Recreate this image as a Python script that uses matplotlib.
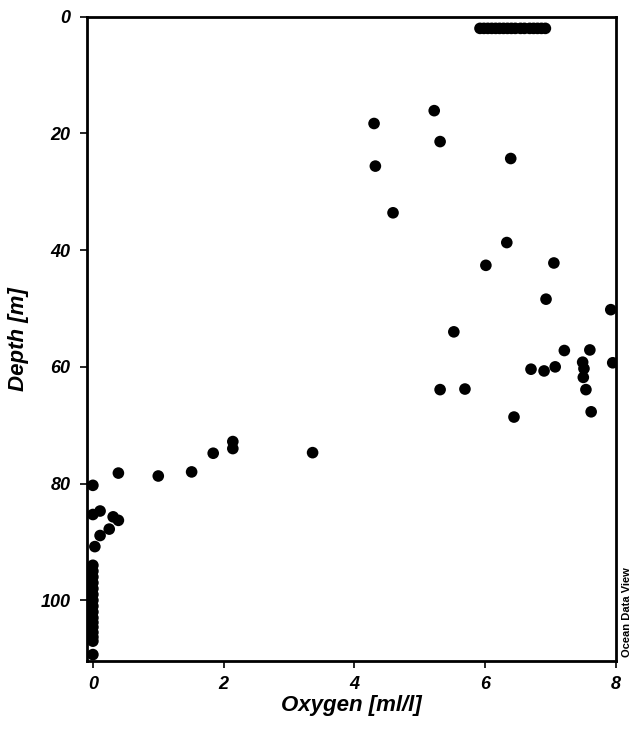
import matplotlib
matplotlib.use("Agg")
import matplotlib.pyplot as plt

# Surface cluster (~2 m)
surf_oxygen = [5.92, 5.98, 6.04, 6.10, 6.16, 6.22, 6.28, 6.34, 6.40, 6.46,
               6.54, 6.60, 6.68, 6.74, 6.80, 6.86, 6.92]
surf_depth = [2.0] * len(surf_oxygen)

# Mid-water points
mid_oxygen = [5.22, 4.30, 5.31, 6.39, 4.32, 4.59, 6.33, 6.01, 7.05, 6.93,
              7.92, 5.52, 7.21, 7.60, 7.49, 7.95, 6.70, 6.90, 7.07, 7.51,
              7.50, 7.54, 5.31, 5.69, 7.62, 6.44]
mid_depth = [16.1, 18.3, 21.4, 24.3, 25.6, 33.6, 38.7, 42.6, 42.2, 48.4,
             50.2, 54.0, 57.2, 57.1, 59.2, 59.3, 60.4, 60.7, 60.0, 60.3,
             61.8, 63.9, 63.9, 63.8, 67.7, 68.6]

# Oxycline points
oxy_oxygen = [2.14, 2.14, 1.84, 3.36, 1.51, 1.00, 0.39, 0.00, 0.00, 0.11,
              0.31, 0.39, 0.25, 0.11, 0.03]
oxy_depth = [72.8, 74.0, 74.8, 74.7, 78.0, 78.7, 78.2, 80.3, 85.3, 84.7,
             85.7, 86.3, 87.8, 88.9, 90.8]

# Anoxic bottom column
deep_oxygen = [0.0, 0.0, 0.0, 0.0, 0.0, 0.0, 0.0, 0.0, 0.0, 0.0,
               0.0, 0.0, 0.0, 0.0, 0.0, 0.0]
deep_depth = [94.0, 95.0, 96.0, 97.0, 98.0, 99.0, 100.0, 101.0, 102.0, 103.0,
              103.8, 104.6, 105.5, 106.3, 107.0, 109.3]

oxygen = surf_oxygen + mid_oxygen + oxy_oxygen + deep_oxygen
depth = surf_depth + mid_depth + oxy_depth + deep_depth

xticks = [0, 2, 4, 6, 8]
yticks = [0, 20, 40, 60, 80, 100]

plt.rcParams['font.family'] = ['Liberation Sans', 'DejaVu Sans']

fig = plt.figure(figsize=(6.40, 7.43), dpi=100)
ax = fig.add_axes([87/640, 82/743, (616-87)/640, (661-16.7)/743])

ax.scatter(oxygen, depth, s=70, c='black', edgecolors='none', zorder=3)

ax.set_xlim(-0.09, 8.0)
ax.set_ylim(110.4, 0)
ax.set_xticks(xticks)
ax.set_yticks(yticks)
ax.set_xticklabels([str(t) for t in xticks])
ax.set_yticklabels([str(t) for t in yticks])

for sp in ax.spines.values():
    sp.set_linewidth(2.0)
ax.tick_params(axis='both', direction='out', length=5, width=1.2,
               labelsize=13, top=False, right=False)
ax.tick_params(axis='y', pad=7)
ax.tick_params(axis='x', pad=6)
for lab in ax.get_xticklabels() + ax.get_yticklabels():
    lab.set_fontweight('bold')
    lab.set_fontstyle('italic')

ax.set_xlabel('Oxygen [ml/l]', fontsize=16, fontweight='bold',
              fontstyle='italic', labelpad=1)
ax.set_ylabel('Depth [m]', fontsize=16, fontweight='bold',
              fontstyle='italic', labelpad=8)

fig.text(627/640, 1 - 612/743, 'Ocean Data View', rotation=90,
         fontsize=8, fontweight='bold', ha='center', va='center')

fig.savefig('out.png', dpi=100)
